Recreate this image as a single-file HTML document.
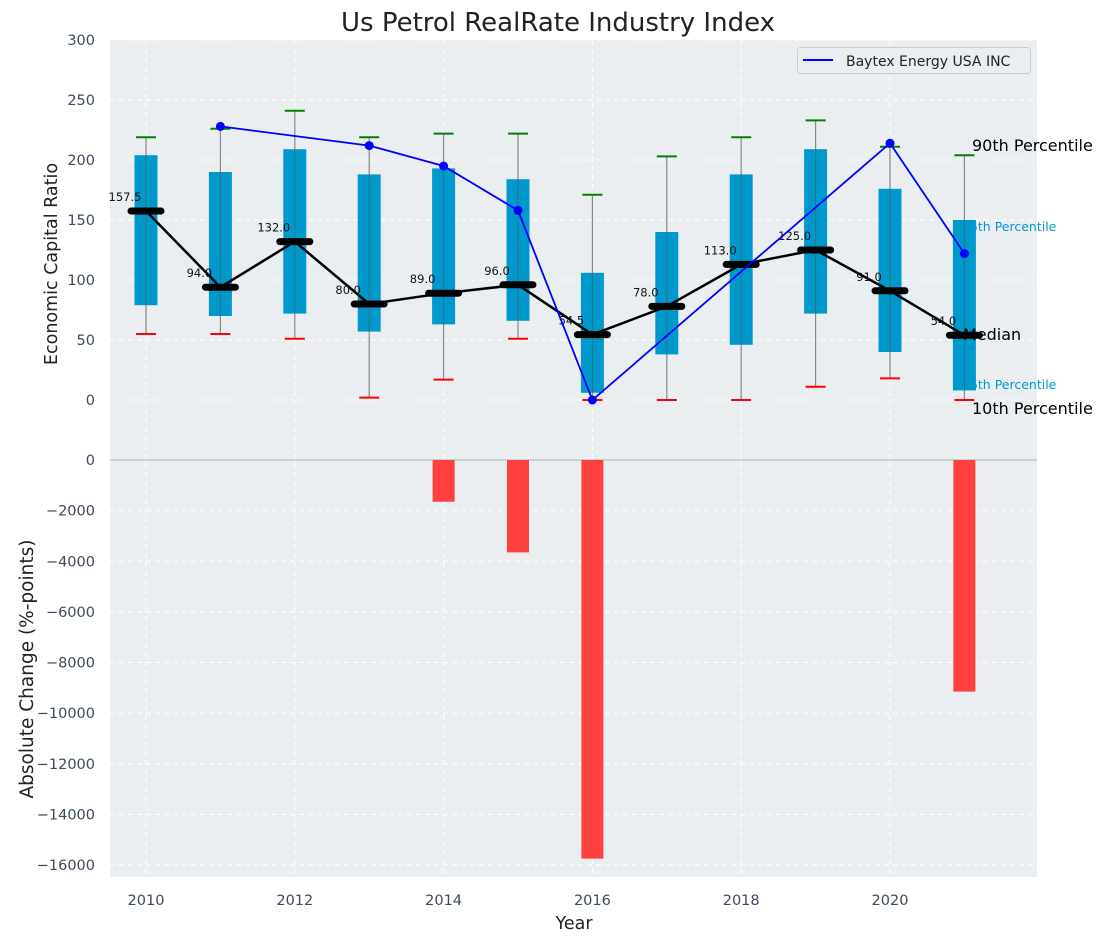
<!DOCTYPE html>
<html><head><meta charset="utf-8"><style>
body{margin:0;background:#fff;}
svg text{font-family:"DejaVu Sans","Liberation Sans",sans-serif;}
</style></head><body>
<svg id="c" width="1107" height="942" xmlns="http://www.w3.org/2000/svg"></svg>
<script>
const years=[2010,2011,2012,2013,2014,2015,2016,2017,2018,2019,2020,2021];
const boxLow=[79,70,72,57,63,66,6,38,46,72,40,8];
const boxHigh=[204,190,209,188,193,184,106,140,188,209,176,150];
const whiskTop=[219,226,241,219,222,222,171,203,219,233,211,204];
const whiskBot=[55,55,51,2,17,51,0,0,0,11,18,0];
const medians=[157.5,94,132,80,89,96,54.5,78,113,125,91,54];
const baytex=[null,228,null,212,195,158,0,null,null,null,214,122];
const changes=[0,0,0,0,-1650,-3650,-15750,0,0,0,0,-9150];
const topTicks=[0,50,100,150,200,250,300];
const botTicks=[0,-2000,-4000,-6000,-8000,-10000,-12000,-14000,-16000];
const xTicks=[2010,2012,2014,2016,2018,2020];

const NS="http://www.w3.org/2000/svg";
const svg=document.getElementById('c');
function el(t,a,p){const e=document.createElementNS(NS,t);for(const k in a)e.setAttribute(k,a[k]);(p||svg).appendChild(e);return e;}
const X=y=>146+(y-2010)*74.4;
const YT=v=>400-v*1.2;
const YB=v=>460-v*(405/16000);
const L=110,R=1037;
const fmt=t=>String(t).replace('-','\u2212');

let bg=el('rect',{x:L,y:40,width:R-L,height:837,fill:'#eaeef0'});


topTicks.forEach(t=>{let g=el('line',{x1:L,x2:R,y1:YT(t),y2:YT(t),stroke:'#fff','stroke-dasharray':'5,4','stroke-width':1});

let tx=el('text',{x:95,y:YT(t)+5,'text-anchor':'end','font-size':14.5,fill:'#3d4a5c'});tx.textContent=fmt(t);
});
botTicks.forEach(t=>{let g=el('line',{x1:L,x2:R,y1:YB(t),y2:YB(t),stroke:t===0?'#b0b0b0':'#fff','stroke-dasharray':t===0?'':'5,4','stroke-width':1});

let tx=el('text',{x:95,y:YB(t)+5,'text-anchor':'end','font-size':14.5,fill:'#3d4a5c'});tx.textContent=fmt(t);
});
xTicks.forEach(t=>{let g=el('line',{x1:X(t),x2:X(t),y1:40,y2:877,stroke:'#fff','stroke-dasharray':'5,4','stroke-width':1});

let tx=el('text',{x:X(t),y:905,'text-anchor':'middle','font-size':14.5,fill:'#3d4a5c'});tx.textContent=t;
});

function lab(txt,x,y,fs,col,name){let t=el('text',{x:x,y:y,'font-size':fs,fill:col});t.textContent=txt;
}
lab('75th Percentile',962,231,12.5,'#0099cc','label-75th');
lab('25th Percentile',962,389,12.5,'#0099cc','label-25th');

years.forEach((y,i)=>{if(changes[i]===0)return;
let b=el('rect',{x:X(y)-11,y:YB(0),width:22,height:YB(changes[i])-YB(0),fill:'#ff4040'});
});

years.forEach((y,i)=>{const x=X(y);
let w=el('line',{x1:x,x2:x,y1:YT(whiskTop[i]),y2:YT(whiskBot[i]),stroke:'#888','stroke-width':1.2});

let b=el('rect',{x:x-11.5,y:YT(boxHigh[i]),width:23,height:YT(boxLow[i])-YT(boxHigh[i]),fill:'#0099cc'});

let w2=el('line',{x1:x,x2:x,y1:YT(boxHigh[i]),y2:YT(boxLow[i]),stroke:'#555','stroke-width':1,opacity:0.6});

let ct=el('line',{x1:x-10,x2:x+10,y1:YT(whiskTop[i]),y2:YT(whiskTop[i]),stroke:'green','stroke-width':2});

let cb=el('line',{x1:x-10,x2:x+10,y1:YT(whiskBot[i]),y2:YT(whiskBot[i]),stroke:'red','stroke-width':2});
});

lab('Median',963,340,16,'#000','label-median');
let mp=el('polyline',{points:years.map((y,i)=>X(y)+','+YT(medians[i])).join(' '),fill:'none',stroke:'#000','stroke-width':2.5});

years.forEach((y,i)=>{const x=X(y);
let m=el('line',{x1:x-15,x2:x+15,y1:YT(medians[i]),y2:YT(medians[i]),stroke:'#000','stroke-width':7,'stroke-linecap':'round'});

let t=el('text',{x:x-21,y:YT(medians[i])-10,'text-anchor':'middle','font-size':11.5,fill:'#111'});t.textContent=medians[i].toFixed(1);
});

const pts=[];years.forEach((y,i)=>{if(baytex[i]!==null)pts.push([X(y),YT(baytex[i])]);});
let bl=el('polyline',{points:pts.map(p=>p.join(',')).join(' '),fill:'none',stroke:'#0000ff','stroke-width':1.8});

pts.forEach(p=>{let c=el('circle',{cx:p[0],cy:p[1],r:4.5,fill:'#0000ff'});
});

lab('90th Percentile',972,151,16,'#000','label-90th');
lab('10th Percentile',972,414,16,'#000','label-10th');

let lg=el('rect',{x:797.5,y:47.5,width:233,height:26,rx:3,fill:'#eaeef0',stroke:'#ccc'});

let ll=el('line',{x1:803,x2:833,y1:60,y2:60,stroke:'#0000ff','stroke-width':2});

lab('Baytex Energy USA INC',846,66,14,'#222','legend-entry');

let tt=el('text',{x:558,y:31,'text-anchor':'middle','font-size':26,fill:'#222'});tt.textContent='Us Petrol RealRate Industry Index';

let xl=el('text',{x:574,y:929,'text-anchor':'middle','font-size':17.5,fill:'#222'});xl.textContent='Year';

let y1=el('text',{x:0,y:0,'text-anchor':'middle','font-size':17.5,fill:'#222',transform:'translate(57,264) rotate(-90)'});y1.textContent='Economic Capital Ratio';

let y2=el('text',{x:0,y:0,'text-anchor':'middle','font-size':18.5,fill:'#222',transform:'translate(33,669) rotate(-90)'});y2.textContent='Absolute Change (%-points)';

</script>
</body></html>
